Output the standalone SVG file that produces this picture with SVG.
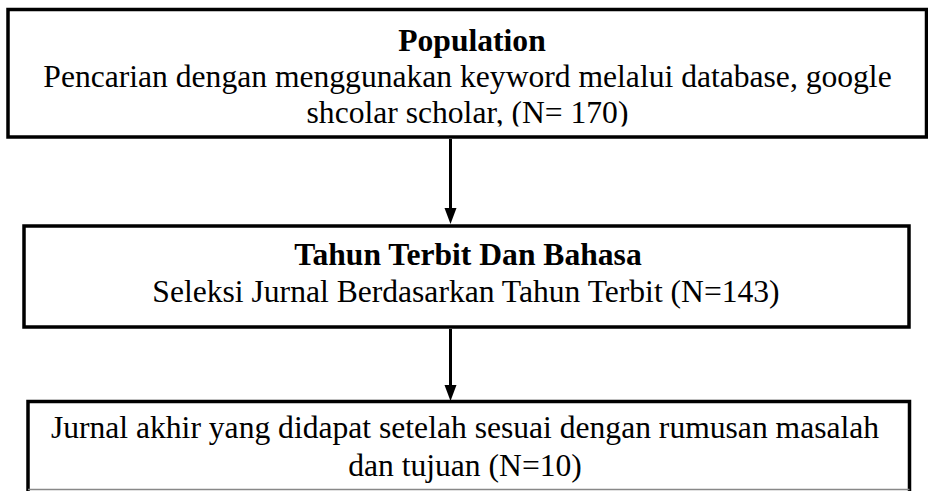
<svg xmlns="http://www.w3.org/2000/svg" width="928" height="491" viewBox="0 0 928 491">
<style>
.box{fill:#fff;stroke:#000;stroke-width:3.5}
.t{font-family:"Liberation Serif","Times New Roman",serif;font-size:31.6px;fill:#000;text-anchor:middle}
.b{font-weight:bold}
.conn{stroke:#000;stroke-width:3;fill:none}
</style>
<defs>
<clipPath id="c1"><rect x="0" y="0" width="928" height="126.5"/></clipPath>
<clipPath id="c3"><rect x="0" y="400" width="928" height="86"/></clipPath>
</defs>
<rect width="928" height="491" fill="#fff"/>
<g id="connectors">
<line class="conn" x1="450.5" y1="139" x2="450.5" y2="208"/>
<path d="M444.5,208 L456.5,208 L450.5,224 Z" fill="#000"/>
<line class="conn" x1="450.5" y1="329" x2="450.5" y2="385"/>
<path d="M444.5,385 L456.5,385 L450.5,401 Z" fill="#000"/>
</g>
<g id="node-population">
<rect class="box" x="8" y="9.5" width="918.5" height="127.5"/>
<g clip-path="url(#c1)">
<text class="t b" x="472" y="51">Population</text>
<text class="t" x="467.5" y="87">Pencarian dengan menggunakan keyword melalui database, google</text>
<text class="t" x="467.5" y="122.5">shcolar scholar, (N= 170)</text>
</g>
</g>
<g id="node-tahun">
<rect class="box" x="24" y="226" width="885" height="101"/>
<text class="t b" x="468" y="265">Tahun Terbit Dan Bahasa</text>
<text class="t" x="466" y="302">Seleksi Jurnal Berdasarkan Tahun Terbit (N=143)</text>
</g>
<g id="node-jurnal">
<path d="M28,495 L28,401.5 L909.5,401.5 L909.5,495" fill="#fff" stroke="#000" stroke-width="3.5"/>
<line x1="28" y1="489.5" x2="909.5" y2="489.5" stroke="#888" stroke-width="1.5"/>
<g clip-path="url(#c3)">
<text class="t" x="465" y="438">Jurnal akhir yang didapat setelah sesuai dengan rumusan masalah</text>
<text class="t" x="465" y="476">dan tujuan (N=10)</text>
</g>
</g>
</svg>
